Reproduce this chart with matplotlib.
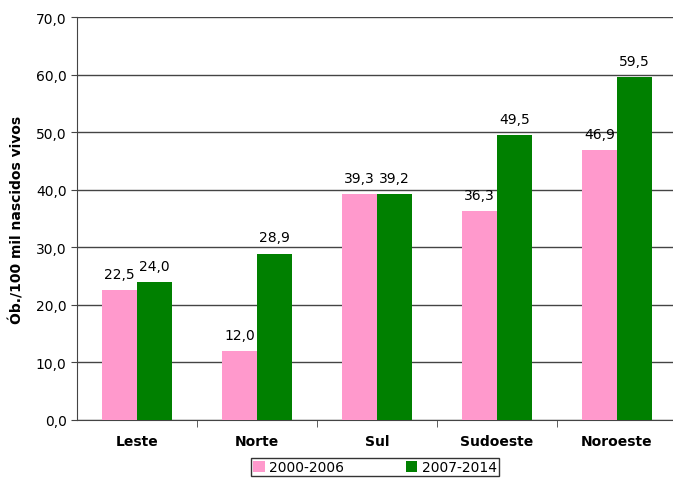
import numpy as np
import matplotlib.pyplot as plt

regioes = ['Leste', 'Norte', 'Sul', 'Sudoeste', 'Noroeste']
p2000_2006 = [22.5, 12.0, 39.3, 36.3, 46.9]
p2007_2014 = [24.0, 28.9, 39.2, 49.5, 59.5]
series_labels = ['2000-2006', '2007-2014']

fmt = lambda v: ('%.1f' % v).replace('.', ',')

fig = plt.figure(figsize=(6.73, 4.81), dpi=100)
ax = fig.add_axes([77 / 673, 60 / 481, 600 / 673, 403 / 481])

x = np.arange(len(regioes))
w = 0.29
b1 = ax.bar(x - w / 2, p2000_2006, w, color='#ff99cc', label=series_labels[0], zorder=3)
b2 = ax.bar(x + w / 2, p2007_2014, w, color='#008000', label=series_labels[1], zorder=3)

for bars, vals in ((b1, p2000_2006), (b2, p2007_2014)):
    for r, v in zip(bars, vals):
        ax.text(r.get_x() + r.get_width() / 2, v + 1.6, fmt(v), ha='center', va='bottom',
                fontsize=10, zorder=4)

ax.set_xlim(-0.5, 4.5)
ax.set_ylim(0, 70)
ax.set_yticks(np.arange(0, 71, 10))
ax.set_yticklabels([fmt(v) for v in np.arange(0, 71, 10)], fontsize=10)
ax.yaxis.grid(True, color='#444444', lw=1)
ax.set_axisbelow(True)

ax.set_xticks(x)
ax.set_xticklabels(regioes, fontsize=10, fontweight='bold')
ax.tick_params(axis='x', length=0, pad=10)
ax.set_xticks(np.arange(0.5, 4.5, 1), minor=True)
ax.tick_params(axis='x', which='minor', length=5, color='#444444')
ax.tick_params(axis='y', length=4, color='#444444')

for s in ['top', 'right']:
    ax.spines[s].set_visible(False)
ax.spines['left'].set_color('#444444')
ax.spines['bottom'].set_color('#444444')

ax.set_ylabel('Ób./100 mil nascidos vivos', fontsize=10, fontweight='bold', labelpad=8)

leg = fig.legend(loc='upper center', bbox_to_anchor=(375 / 673, 22 / 481), ncol=2,
                 fontsize=10, frameon=True, fancybox=False, edgecolor='black',
                 handlelength=0.8, handleheight=0.8, columnspacing=4.5, borderpad=0.15,
                 handletextpad=0.3, borderaxespad=0)
leg.get_frame().set_linewidth(1)

plt.savefig('out.png', dpi=100)
plt.close()
